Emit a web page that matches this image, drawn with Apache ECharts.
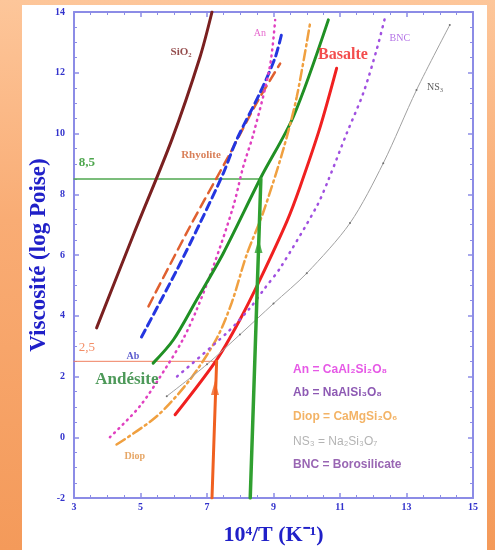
<!DOCTYPE html>
<html>
<head>
<meta charset="utf-8">
<script src="https://cdn.jsdelivr.net/npm/echarts@6/dist/echarts.min.js"></script>
<style>
  html, body { margin: 0; padding: 0; }
  body {
    width: 495px; height: 550px; position: relative; overflow: hidden;
    background: linear-gradient(to bottom, #fdc69a 0%, #f9ac74 40%, #f49a5a 100%);
  }
  #panel { position: absolute; left: 22px; top: 5px; width: 465px; height: 545px; background: #fff; }
  #chart { position: absolute; left: 0; top: 0; width: 495px; height: 550px; }
</style>
</head>
<body>
<div id="panel"></div>
<div id="chart"></div>
<script>
// axis ranges (10^4/T and log viscosity)
const xRange = [3, 15];
const yRange = [-2, 14];

// curves: [10^4/T, log Poise]
const sio2 = [[3.68,3.6],[4.8,6.7],[5.94,9.79],[6.79,12.52],[7.15,14]];
const rhyolite = [[5.24,4.31],[6.49,6.94],[7.64,9.24],[8.49,11.0],[9.2,12.3]];
const ab = [[5.03,3.3],[6.09,5.5],[6.79,7.05],[7.49,8.69],[7.89,9.79],[8.59,11.33],[9.05,12.5],[9.25,13.3]];
const an = [[4.08,0],[4.98,1.02],[5.79,2.33],[6.29,3.25],[6.69,4.2],[7.19,5.62],[7.79,7.6],[8.09,8.91],[8.4,10.0],[8.89,12.2],[9.05,13.74]];
const andesite = [[5.38,2.44],[5.99,3.21],[6.69,4.53],[7.49,6.06],[8.62,8.55],[9.6,10.56],[10.65,13.74]];
const basalte = [[6.04,0.74],[7.29,2.55],[7.99,3.87],[8.59,5.18],[9.4,7.1],[9.8,8.25],[10.4,10.2],[10.9,12.15]];
const diop = [[4.28,-0.24],[5.49,0.69],[6.49,1.9],[7.29,3.25],[7.74,4.42],[8.19,6.0],[8.69,7.4],[9.29,9.46],[9.7,11.21],[10.1,13.63]];
const ns3 = [[5.79,1.35],[7.0,2.4],[7.99,3.38],[9.0,4.4],[10.0,5.4],[11.3,7.05],[12.3,9.02],[13.3,11.43],[14.3,13.57]];
const bnc = [[6.1,2.0],[7.59,3.43],[8.29,4.25],[8.74,4.91],[9.2,5.57],[10.3,7.6],[10.65,8.47],[11.2,10.0],[11.7,11.33],[12.1,12.75],[12.35,13.8]];

// reading guides
const guide85h = [[3,8.5],[8.62,8.5]];
const guide85v = [[8.3,-2],[8.62,8.5]];
const guide25h = [[3,2.5],[7.29,2.5]];
const guide25v = [[7.15,-2],[7.29,2.5]];
const arrowHeads = [[7.24,1.62,'#f06020'],[8.55,6.3,'#30a030']];

// annotations: [x, y, text, color, size, weight, family, align]
const serif = 'Liberation Serif, Times New Roman, serif';
const sans = 'Liberation Sans, Arial, sans-serif';
const notes = [
  [6.22,12.68,'SiO₂','#7a2020',11,'bold',serif,'center'],
  [6.82,9.3,'Rhyolite','#d06030',11,'bold',serif,'center'],
  [8.59,13.31,'An','#e040c0',10,'normal',serif,'center'],
  [11.09,12.59,'Basalte','#f02020',16,'bold',serif,'center'],
  [12.8,13.14,'BNC','#a050e0',10,'normal',serif,'center'],
  [13.86,11.53,'NS₃','#303030',10,'normal',serif,'center'],
  [4.77,2.65,'Ab','#3030c0',10,'bold',serif,'center'],
  [4.59,1.89,'Andésite','#208030',17,'bold',serif,'center'],
  [4.83,-0.64,'Diop','#e09040',10,'bold',serif,'center'],
  [3.39,9.03,'8,5','#209020',13,'bold',serif,'center'],
  [3.39,2.95,'2,5','#f07040',13,'normal',serif,'center'],
  [9.59,2.22,'An = CaAl₂Si₂O₈','#e030e0',12,'bold',sans,'left'],
  [9.59,1.47,'Ab = NaAlSi₃O₈','#7030a0',12,'bold',sans,'left'],
  [9.59,0.68,'Diop = CaMgSi₂O₆','#f0a040',12,'bold',sans,'left'],
  [9.59,-0.14,'NS₃ = Na₂Si₃O₇','#a0a0a0',12,'normal',sans,'left'],
  [9.59,-0.9,'BNC = Borosilicate','#8040a0',12,'bold',sans,'left']
];

const axisColor = '#8c8ce6';
const labelStyle = { color: '#3333cc', fontFamily: serif, fontWeight: 'bold', fontSize: 10 };

function axisBase(extra) {
  return Object.assign({
    type: 'value',
    axisLine: { show: true, onZero: false, lineStyle: { color: axisColor, width: 2 } },
    axisTick: { show: true, inside: true, length: 5, lineStyle: { color: axisColor, width: 1.5 } },
    minorTick: { show: true, splitNumber: 4, length: 3, lineStyle: { color: axisColor } },
    splitLine: { show: false },
    minorSplitLine: { show: false }
  }, extra);
}

function curve(name, data, color, width, type, extra) {
  return Object.assign({
    name: name, type: 'line', data: data, smooth: 0.3, showSymbol: false,
    lineStyle: { color: color, width: width, type: type, cap: 'round' },
    z: 3, silent: true
  }, extra || {});
}

const chart = echarts.init(document.getElementById('chart'));
const option = {
  backgroundColor: 'transparent',
  animation: false,
  grid: { left: 74, right: 22, top: 12, bottom: 52, containLabel: false, outerBoundsMode: 'none' },
  xAxis: [
    axisBase({
      min: xRange[0], max: xRange[1], interval: 2,
      axisLabel: Object.assign({ margin: 4 }, labelStyle),
      name: '10⁴/T (K⁻¹)', nameLocation: 'middle', nameGap: 26,
      nameTextStyle: { color: '#2020c8', fontFamily: serif, fontWeight: 'bold', fontSize: 22 }
    }),
    axisBase({ position: 'top', min: xRange[0], max: xRange[1], interval: 2, axisLabel: { show: false } })
  ],
  yAxis: [
    axisBase({
      min: yRange[0], max: yRange[1], interval: 2,
      axisLabel: Object.assign({ margin: 9 }, labelStyle),
      name: 'Viscosité (log Poise)', nameLocation: 'middle', nameGap: 23, nameMoveOverlap: false,
      nameTextStyle: { color: '#2020c8', fontFamily: serif, fontWeight: 'bold', fontSize: 23 }
    }),
    axisBase({ position: 'right', min: yRange[0], max: yRange[1], interval: 2, axisLabel: { show: false } })
  ],
  series: [
    curve('8,5 h', guide85h, '#50a850', 1.5, 'solid', { smooth: false, z: 1 }),
    curve('8,5 v', guide85v, '#30a030', 3.5, 'solid', { smooth: false, z: 4 }),
    curve('2,5 h', guide25h, '#f08060', 1, 'solid', { smooth: false, z: 1 }),
    curve('2,5 v', guide25v, '#f06020', 3, 'solid', { smooth: false, z: 4 }),
    curve('SiO2', sio2, '#7a2020', 3, 'solid'),
    curve('Rhyolite', rhyolite, '#e06030', 2.5, [10, 6]),
    curve('Ab', ab, '#2436e0', 3, [8, 5]),
    curve('An', an, '#e040c0', 2.5, [1, 5]),
    curve('Andésite', andesite, '#209024', 3, 'solid'),
    curve('Basalte', basalte, '#f02020', 3, 'solid'),
    curve('Diop', diop, '#f0a040', 2.5, [10, 4, 2, 4]),
    curve('NS3', ns3, '#a0a0a0', 1, 'solid', {
      showSymbol: true, symbol: 'circle', symbolSize: 2,
      itemStyle: { color: '#707070' }
    }),
    curve('BNC', bnc, '#a050e0', 2.5, [1, 6]),
    {
      type: 'scatter', silent: true, z: 5,
      data: arrowHeads.map(a => ({ value: [a[0], a[1]], itemStyle: { color: a[2] } })),
      symbol: 'triangle', symbolSize: [8, 14]
    },
    {
      type: 'scatter', silent: true, z: 6, symbolSize: 0,
      data: notes.map(n => ({
        value: [n[0], n[1]],
        label: {
          show: true, formatter: n[2], color: n[3], fontSize: n[4], fontWeight: n[5],
          fontFamily: n[6], position: n[7] === 'left' ? 'right' : 'inside', distance: 0
        }
      }))
    }
  ]
};
chart.setOption(option);
</script>
</body>
</html>
